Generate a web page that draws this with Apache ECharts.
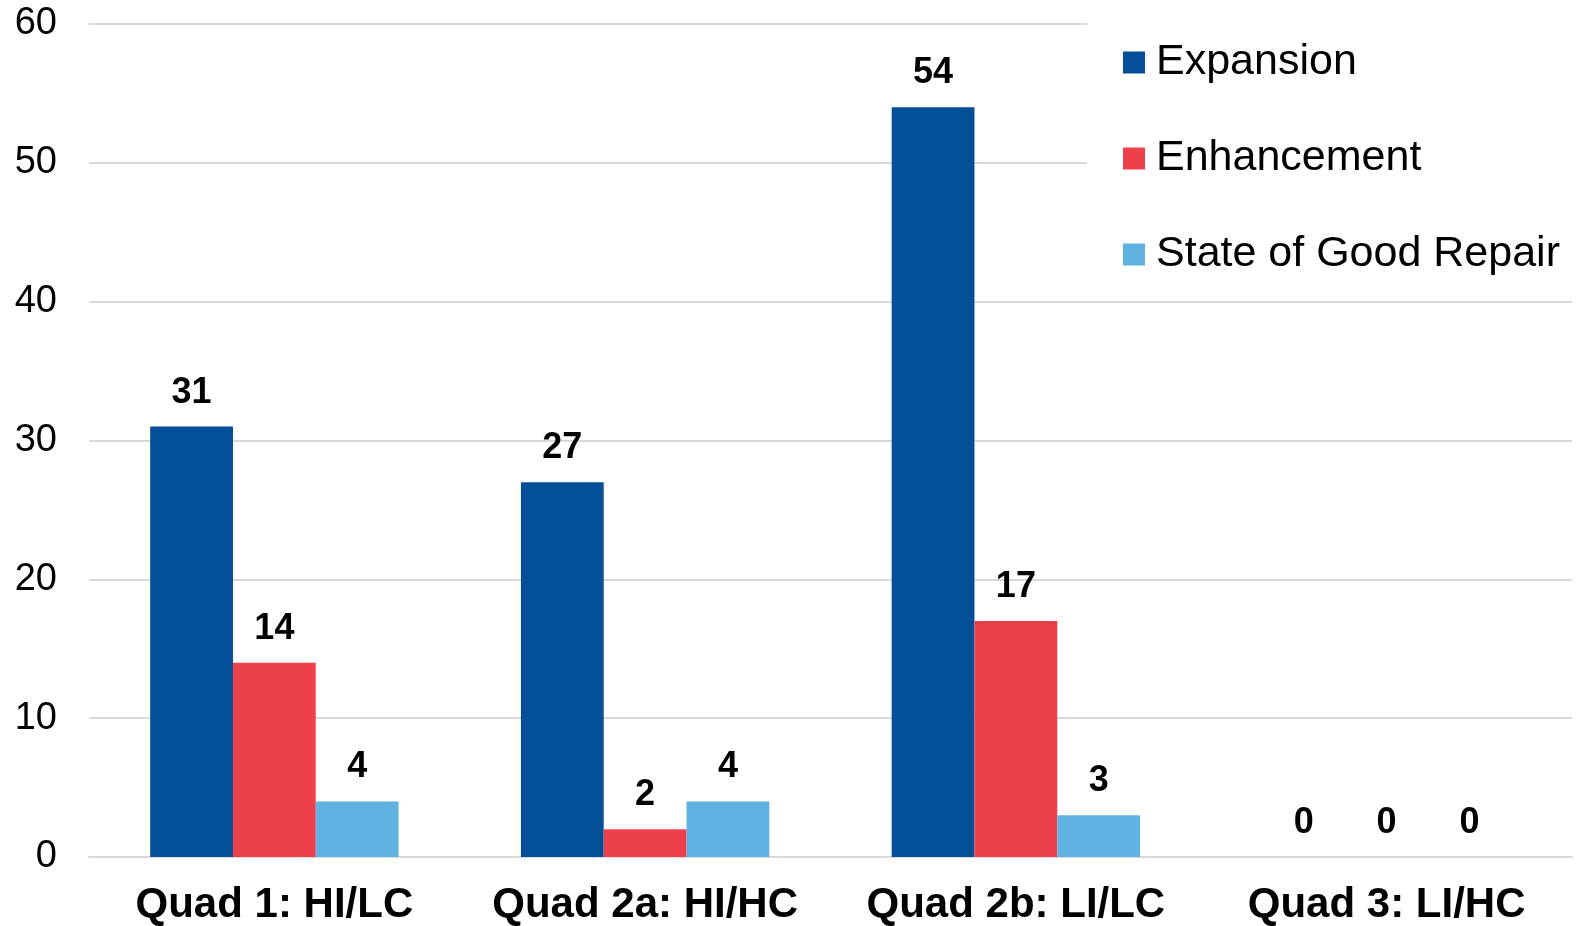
<!DOCTYPE html>
<html>
<head>
<meta charset="utf-8">
<script src="https://cdn.jsdelivr.net/npm/echarts@6/dist/echarts.min.js"></script>
<style>
html,body{margin:0;padding:0;background:#fff;}
#main{width:1585px;height:926px;}
</style>
</head>
<body>
<div id="main"></div>
<script>
var quads = ['Quad 1: HI/LC', 'Quad 2a: HI/HC', 'Quad 2b: LI/LC', 'Quad 3: LI/HC'];
var expansion = [31, 27, 54, 0];
var enhancement = [14, 2, 17, 0];
var goodRepair = [4, 4, 3, 0];
var yTicks = [0, 10, 20, 30, 40, 50, 60];

var font = 'Liberation Sans, Arial, sans-serif';

function barSeries(name, values, col) {
	return {
		name : name,
		type : 'bar',
		data : values,
		barGap : '0%',
		barCategoryGap : '33%',
		itemStyle : { color : col },
		label : {
			show : true,
			position : 'top',
			distance : 16,
			color : '#000',
			fontFamily : font,
			fontWeight : 'bold',
			fontSize : 36
		}
	};
}

var myChart = echarts.init(document.getElementById('main'));
var option = {
	animation : false,
	textStyle : { fontFamily : font },
	grid : { left : 89, right : 13, top : 24, bottom : 66 },
	legend : {
		orient : 'vertical',
		left : 1087,
		top : 5,
		padding : [36, 60, 10, 36],
		backgroundColor : '#fff',
		selectedMode : false,
		icon : 'rect',
		itemWidth : 22,
		itemHeight : 22,
		itemGap : 53,
		textStyle : {
			fontFamily : font,
			fontSize : 43,
			lineHeight : 42,
			color : '#000',
			padding : [0, 0, 0, 6]
		},
		data : ['Expansion', 'Enhancement', 'State of Good Repair']
	},
	xAxis : {
		type : 'category',
		data : quads,
		axisLine : { show : true, lineStyle : { color : '#D9D9D9', width : 2 } },
		axisTick : { show : false },
		axisLabel : {
			interval : 0,
			color : '#000',
			fontFamily : font,
			fontWeight : 'bold',
			fontSize : 42,
			margin : 27
		}
	},
	yAxis : {
		type : 'value',
		min : yTicks[0],
		max : yTicks[yTicks.length - 1],
		interval : 10,
		axisLine : { show : false },
		axisTick : { show : false },
		splitLine : { lineStyle : { color : '#D9D9D9', width : 2 } },
		axisLabel : {
			color : '#000',
			fontFamily : font,
			fontSize : 38,
			margin : 32
		}
	},
	series : [
		barSeries('Expansion', expansion, '#034F98'),
		barSeries('Enhancement', enhancement, '#EE404A'),
		barSeries('State of Good Repair', goodRepair, '#60B2E3')
	]
};
myChart.setOption(option);
</script>
</body>
</html>
